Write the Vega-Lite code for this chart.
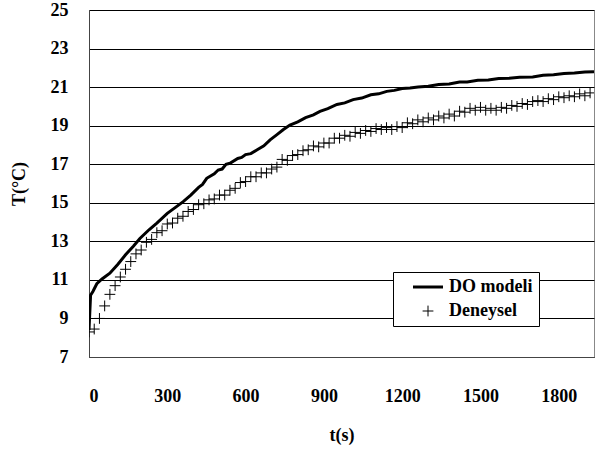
{
  "$schema": "https://vega.github.io/schema/vega-lite/v6.json",
  "width": 505,
  "height": 347,
  "autosize": "none",
  "padding": {"left": 89, "top": 10, "right": 9, "bottom": 95},
  "config": {
    "font": "'Liberation Serif', 'DejaVu Serif', serif",
    "view": {"stroke": "#888888", "strokeWidth": 1},
    "axis": {
      "tickSize": 0, "domainColor": "#444444", "gridColor": "black", "gridOpacity": 1, "gridWidth": 1, "labelOverlap": false
    }
  },
  "layer": [
    {
      "data": {"values": [
        {"t": 0, "T": 8.4}, {"t": 3, "T": 9.3}, {"t": 6, "T": 10.2}, {"t": 15, "T": 10.4}, {"t": 30, "T": 10.8},
        {"t": 50, "T": 11.05}, {"t": 80, "T": 11.35}, {"t": 110, "T": 11.8}, {"t": 140, "T": 12.3}, {"t": 170, "T": 12.75},
        {"t": 195, "T": 13.15}, {"t": 230, "T": 13.6}, {"t": 260, "T": 13.95}, {"t": 300, "T": 14.45}, {"t": 330, "T": 14.75},
        {"t": 361, "T": 15.06}, {"t": 390, "T": 15.4}, {"t": 420, "T": 15.8}, {"t": 435, "T": 15.95}, {"t": 451, "T": 16.27},
        {"t": 480, "T": 16.5}, {"t": 495, "T": 16.7}, {"t": 510, "T": 16.75}, {"t": 525, "T": 17.0}, {"t": 540, "T": 17.05},
        {"t": 570, "T": 17.3}, {"t": 585, "T": 17.35}, {"t": 600, "T": 17.5}, {"t": 620, "T": 17.55}, {"t": 643, "T": 17.74},
        {"t": 670, "T": 17.95}, {"t": 694, "T": 18.26}, {"t": 719, "T": 18.52}, {"t": 745, "T": 18.8}, {"t": 770, "T": 19.03},
        {"t": 800, "T": 19.2}, {"t": 830, "T": 19.42}, {"t": 860, "T": 19.56}, {"t": 885, "T": 19.74}, {"t": 915, "T": 19.88},
        {"t": 950, "T": 20.1}, {"t": 980, "T": 20.18}, {"t": 1012, "T": 20.35}, {"t": 1045, "T": 20.43}, {"t": 1080, "T": 20.6},
        {"t": 1110, "T": 20.65}, {"t": 1141, "T": 20.78}, {"t": 1170, "T": 20.83}, {"t": 1200, "T": 20.93}, {"t": 1230, "T": 20.95},
        {"t": 1261, "T": 21.0}, {"t": 1300, "T": 21.04}, {"t": 1340, "T": 21.13}, {"t": 1380, "T": 21.16}, {"t": 1420, "T": 21.26},
        {"t": 1449, "T": 21.27}, {"t": 1490, "T": 21.35}, {"t": 1530, "T": 21.37}, {"t": 1570, "T": 21.45}, {"t": 1610, "T": 21.46},
        {"t": 1650, "T": 21.51}, {"t": 1700, "T": 21.53}, {"t": 1740, "T": 21.61}, {"t": 1780, "T": 21.64}, {"t": 1820, "T": 21.71},
        {"t": 1860, "T": 21.73}, {"t": 1900, "T": 21.78}, {"t": 1935, "T": 21.8}
      ]},
      "mark": {"type": "line", "color": "black", "strokeWidth": 3, "clip": true},
      "encoding": {
        "x": {"field": "t", "type": "quantitative", "scale": {"domain": [0, 1935], "nice": false},
          "axis": {"values": [0, 300, 600, 900, 1200, 1500, 1800], "tickCount": 20, "format": "d", "grid": false, "labelPadding": 30, "title": "t(s)", "titlePadding": 21,
            "labelFont": "'Liberation Serif', 'DejaVu Serif', serif", "labelFontWeight": "bold", "labelFontSize": 18, "labelColor": "black",
            "titleFont": "'Liberation Serif', 'DejaVu Serif', serif", "titleFontWeight": "bold", "titleFontSize": 18, "titleColor": "black"}},
        "y": {"field": "T", "type": "quantitative", "scale": {"domain": [7, 25], "nice": false},
          "axis": {"values": [7, 9, 11, 13, 15, 17, 19, 21, 23, 25], "tickCount": 20, "format": "d", "grid": true, "labelPadding": 21, "title": "T(°C)", "titlePadding": 22,
            "labelFont": "'Liberation Serif', 'DejaVu Serif', serif", "labelFontWeight": "bold", "labelFontSize": 18, "labelColor": "black",
            "titleFont": "'Liberation Serif', 'DejaVu Serif', serif", "titleFontWeight": "bold", "titleFontSize": 18, "titleColor": "black"}}
      }
    },
    {
      "data": {"values": [
        {"t": 0, "T": 8.3}, {"t": 20, "T": 8.45}, {"t": 40, "T": 9.0}, {"t": 60, "T": 9.65}, {"t": 80, "T": 10.25},
        {"t": 100, "T": 10.7}, {"t": 120, "T": 11.15}, {"t": 140, "T": 11.55}, {"t": 160, "T": 11.95}, {"t": 180, "T": 12.35},
        {"t": 200, "T": 12.55}, {"t": 220, "T": 12.95}, {"t": 240, "T": 13.1}, {"t": 260, "T": 13.45}, {"t": 280, "T": 13.55},
        {"t": 300, "T": 13.9}, {"t": 320, "T": 13.95}, {"t": 340, "T": 14.2}, {"t": 360, "T": 14.3}, {"t": 380, "T": 14.55},
        {"t": 400, "T": 14.65}, {"t": 420, "T": 14.9}, {"t": 440, "T": 14.95}, {"t": 460, "T": 15.15}, {"t": 480, "T": 15.2},
        {"t": 500, "T": 15.4}, {"t": 520, "T": 15.4}, {"t": 540, "T": 15.65}, {"t": 560, "T": 15.75}, {"t": 580, "T": 16.05},
        {"t": 600, "T": 16.1}, {"t": 620, "T": 16.35}, {"t": 640, "T": 16.35}, {"t": 660, "T": 16.55}, {"t": 680, "T": 16.55},
        {"t": 700, "T": 16.75}, {"t": 720, "T": 16.85}, {"t": 740, "T": 17.25}, {"t": 760, "T": 17.2}, {"t": 780, "T": 17.45},
        {"t": 800, "T": 17.5}, {"t": 820, "T": 17.7}, {"t": 840, "T": 17.75}, {"t": 860, "T": 17.95}, {"t": 880, "T": 17.9},
        {"t": 900, "T": 18.1}, {"t": 920, "T": 18.1}, {"t": 940, "T": 18.35}, {"t": 960, "T": 18.35}, {"t": 980, "T": 18.5},
        {"t": 1000, "T": 18.45}, {"t": 1020, "T": 18.65}, {"t": 1040, "T": 18.6}, {"t": 1060, "T": 18.75}, {"t": 1080, "T": 18.7},
        {"t": 1100, "T": 18.85}, {"t": 1120, "T": 18.8}, {"t": 1140, "T": 18.9}, {"t": 1160, "T": 18.8}, {"t": 1180, "T": 18.95},
        {"t": 1200, "T": 18.9}, {"t": 1220, "T": 19.15}, {"t": 1240, "T": 19.1}, {"t": 1260, "T": 19.3}, {"t": 1280, "T": 19.2},
        {"t": 1300, "T": 19.4}, {"t": 1320, "T": 19.3}, {"t": 1340, "T": 19.5}, {"t": 1360, "T": 19.4}, {"t": 1380, "T": 19.6},
        {"t": 1400, "T": 19.5}, {"t": 1420, "T": 19.75}, {"t": 1440, "T": 19.7}, {"t": 1460, "T": 19.9}, {"t": 1480, "T": 19.8},
        {"t": 1500, "T": 19.95}, {"t": 1520, "T": 19.8}, {"t": 1540, "T": 19.9}, {"t": 1560, "T": 19.8}, {"t": 1580, "T": 19.95},
        {"t": 1600, "T": 19.9}, {"t": 1620, "T": 20.05}, {"t": 1640, "T": 20.0}, {"t": 1660, "T": 20.15}, {"t": 1680, "T": 20.1},
        {"t": 1700, "T": 20.25}, {"t": 1720, "T": 20.3}, {"t": 1740, "T": 20.25}, {"t": 1760, "T": 20.4}, {"t": 1780, "T": 20.35},
        {"t": 1800, "T": 20.5}, {"t": 1820, "T": 20.45}, {"t": 1840, "T": 20.55}, {"t": 1860, "T": 20.5}, {"t": 1880, "T": 20.65},
        {"t": 1900, "T": 20.55}, {"t": 1920, "T": 20.7}
      ]},
      "transform": [{"calculate": "'Deneysel'", "as": "series"}],
      "mark": {"type": "point", "filled": false, "stroke": "black", "size": 144, "opacity": 1, "clip": true},
      "encoding": {
        "x": {"field": "t", "type": "quantitative"},
        "y": {"field": "T", "type": "quantitative"},
        "shape": {"field": "series", "type": "nominal",
          "scale": {"domain": ["DO modeli", "Deneysel"], "range": ["M-2.5,0H2.5", "M-0.9,0H0.9M0,-0.9V0.9"]},
          "legend": {"title": null, "orient": "none", "legendX": 304, "legendY": 262,
            "fillColor": "white", "strokeColor": "black", "padding": 6, "symbolOffset": 20,
            "labelOffset": 12, "rowPadding": 6, "symbolSize": 144, "symbolStrokeColor": "black",
            "labelFont": "'Liberation Serif', 'DejaVu Serif', serif", "labelFontWeight": "bold", "labelFontSize": 18, "labelColor": "black"}},
        "strokeWidth": {"field": "series", "type": "nominal",
          "scale": {"domain": ["DO modeli", "Deneysel"], "range": [3, 1]}}
      }
    }
  ]
}
